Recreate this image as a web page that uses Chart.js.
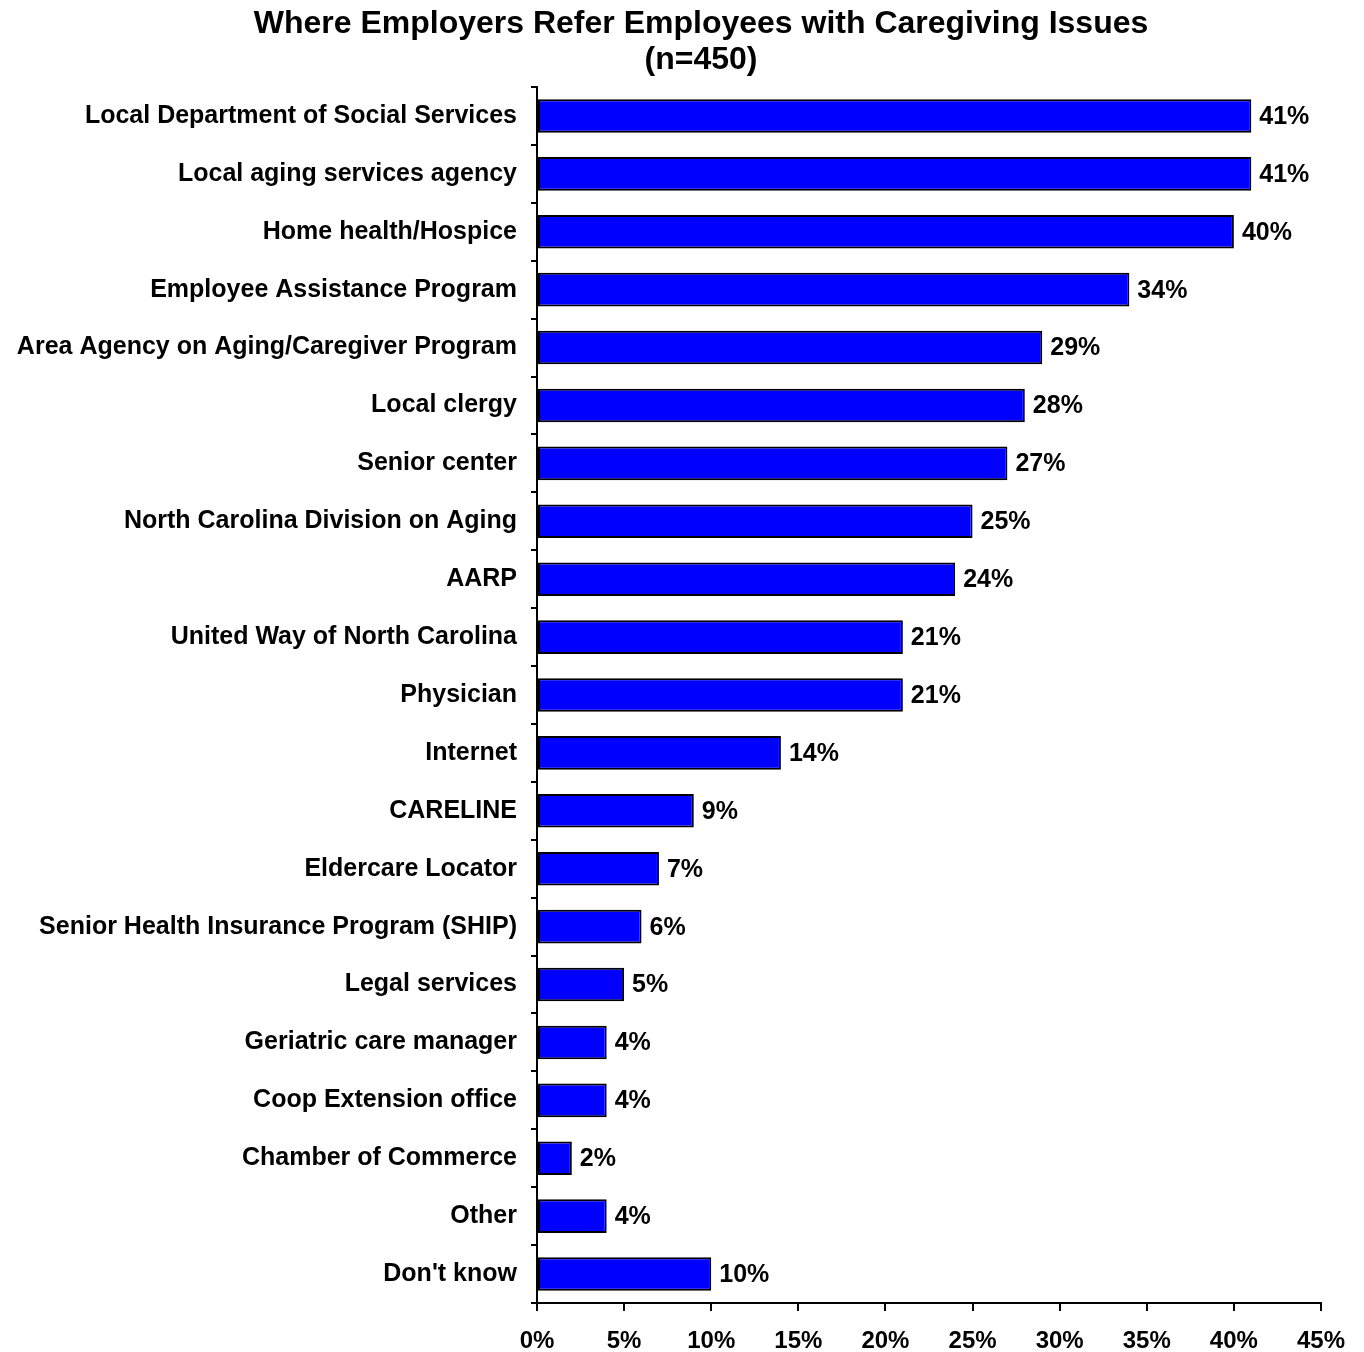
<!DOCTYPE html>
<html lang="en">
<head>
  <meta charset="UTF-8" />
  <title>Where Employers Refer Employees with Caregiving Issues</title>
  <script src="https://cdn.jsdelivr.net/npm/chart.js"></script>
  <style>
    body { margin: 0; background: #fff; }
    canvas { display: block; }
  </style>
</head>
<body>
  <canvas id="chart" width="1364" height="1352"></canvas>
  <script>
    const titleLines = ['Where Employers Refer Employees with Caregiving Issues', '(n=450)'];
    const categories = [
      'Local Department of Social Services',
      'Local aging services agency',
      'Home health/Hospice',
      'Employee Assistance Program',
      'Area Agency on Aging/Caregiver Program',
      'Local clergy',
      'Senior center',
      'North Carolina Division on Aging',
      'AARP',
      'United Way of North Carolina',
      'Physician',
      'Internet',
      'CARELINE',
      'Eldercare Locator',
      'Senior Health Insurance Program (SHIP)',
      'Legal services',
      'Geriatric care manager',
      'Coop Extension office',
      'Chamber of Commerce',
      'Other',
      "Don't know"
    ];
    const percents = [41, 41, 40, 34, 29, 28, 27, 25, 24, 21, 21, 14, 9, 7, 6, 5, 4, 4, 2, 4, 10];
    const xTicks = [0, 5, 10, 15, 20, 25, 30, 35, 40, 45];

    const FONT = 'Arial, "Liberation Sans", sans-serif';

    // title is a bit right of the canvas centre in the original, so draw it here
    const titlePlugin = {
      id: 'titleText',
      afterDraw(chart) {
        const ctx = chart.ctx;
        ctx.save();
        ctx.font = 'bold 32px ' + FONT;
        ctx.fillStyle = '#000';
        ctx.textAlign = 'center';
        ctx.textBaseline = 'middle';
        ctx.fillText(titleLines[0], 701, 24);
        ctx.fillText(titleLines[1], 701, 60);
        ctx.restore();
      }
    };

    // value labels at the end of each bar
    const valueLabels = {
      id: 'valueLabels',
      afterDatasetsDraw(chart) {
        const ctx = chart.ctx;
        const meta = chart.getDatasetMeta(0);
        ctx.save();
        ctx.font = 'bold 25px ' + FONT;
        ctx.fillStyle = '#000';
        ctx.textAlign = 'left';
        ctx.textBaseline = 'middle';
        meta.data.forEach((bar, i) => {
          ctx.fillText(percents[i] + '%', bar.x + 8, bar.y + 1);
        });
        ctx.restore();
      }
    };

    new Chart(document.getElementById('chart').getContext('2d'), {
      type: 'bar',
      data: {
        labels: categories,
        datasets: [{
          data: percents,
          backgroundColor: '#0000ff',
          borderColor: '#000',
          borderWidth: 2,
          borderSkipped: false,
          barPercentage: 0.58,
          categoryPercentage: 1
        }]
      },
      options: {
        indexAxis: 'y',
        responsive: false,
        animation: false,
        layout: { padding: { left: 0, right: 43, top: 87, bottom: 0 } },
        plugins: {
          legend: { display: false },
          tooltip: { enabled: false },
          title: { display: false }
        },
        scales: {
          x: {
            min: 0,
            max: 45,
            afterBuildTicks(scale) { scale.ticks = xTicks.map(v => ({ value: v })); },
            afterFit(scale) { scale.height = 49; },
            border: { color: '#000', width: 2 },
            grid: { drawOnChartArea: false, color: '#000', lineWidth: 2, tickLength: 8 },
            ticks: {
              color: '#000',
              padding: 16,
              maxRotation: 0,
              font: { family: FONT, size: 24, weight: 'bold' },
              callback: v => v + '%'
            }
          },
          y: {
            afterFit(scale) { scale.width = 537; },
            border: { color: '#000', width: 2 },
            grid: { drawOnChartArea: false, color: '#000', lineWidth: 2, tickLength: 6, offset: true },
            ticks: {
              color: '#000',
              padding: 14,
              autoSkip: false,
              font: { family: FONT, size: 25, weight: 'bold' }
            }
          }
        }
      },
      plugins: [valueLabels, titlePlugin]
    });
  </script>
</body>
</html>
